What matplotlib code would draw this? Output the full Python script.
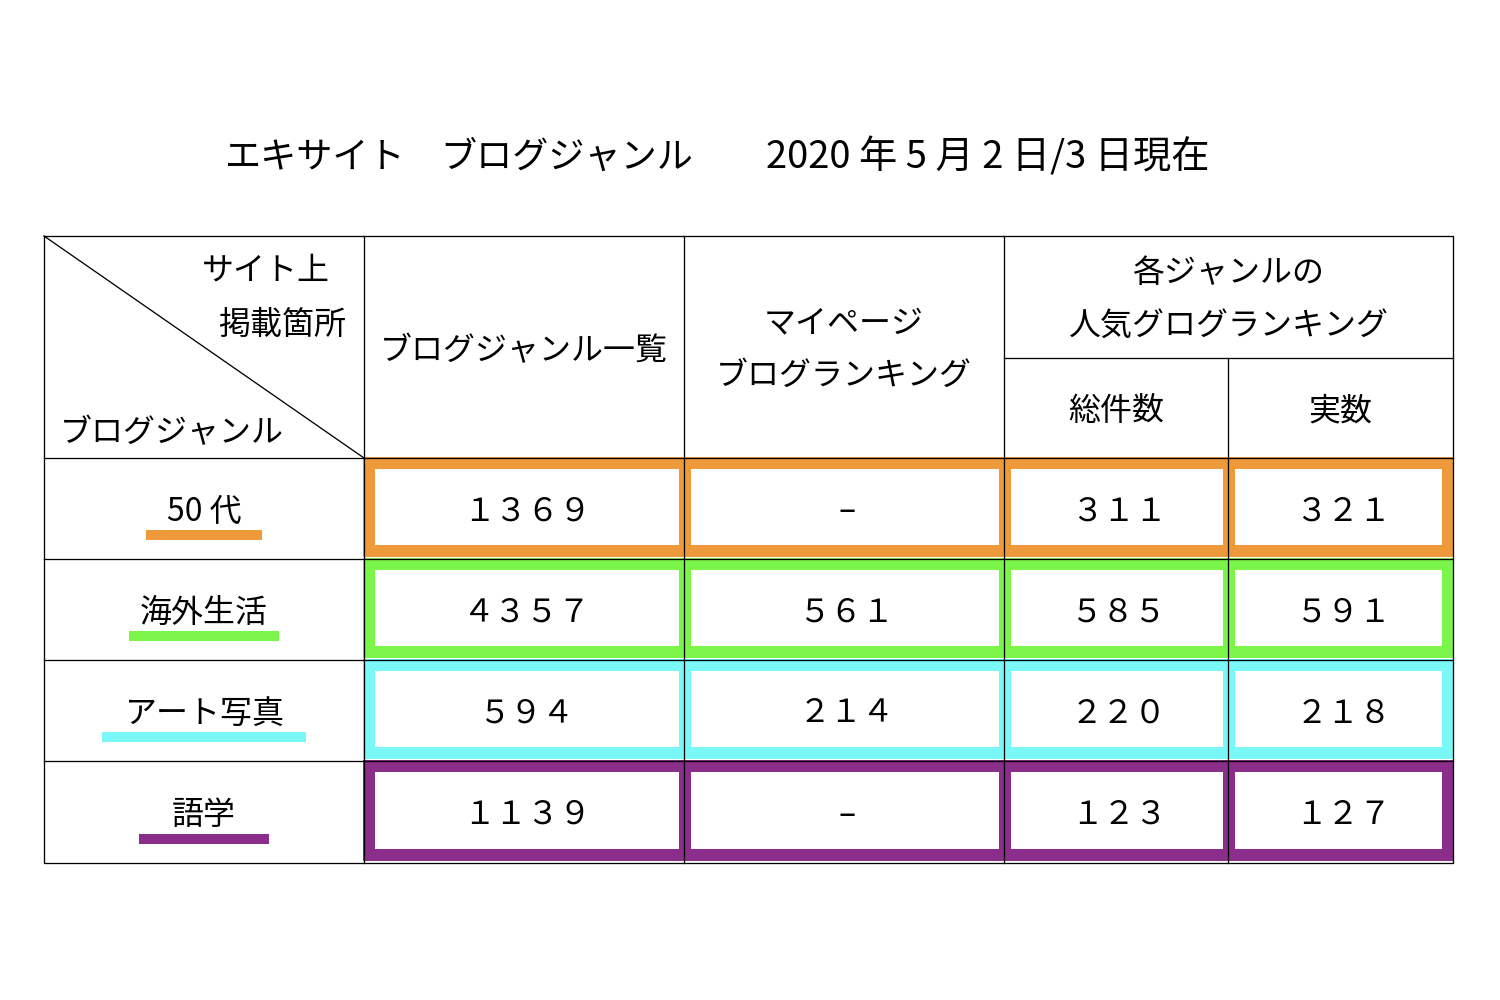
import matplotlib
matplotlib.use("Agg")
import matplotlib.pyplot as plt
from matplotlib.patches import Rectangle

plt.rcParams['font.family'] = ['Noto Sans CJK JP', 'DejaVu Sans']

# ---- data ----
title_parts = ["エキサイト", "ブログジャンル", "2020 年 5 月 2 日/3 日現在"]
genres = ["50 代", "海外生活", "アート写真", "語学"]
blog_genre_list = [1369, 4357, 594, 1139]
mypage_ranking = [None, 561, 214, None]
popular_total = [311, 585, 220, 123]
popular_actual = [321, 591, 218, 127]
header_col1 = "ブログジャンル一覧"
header_col2 = ["マイページ", "ブログランキング"]
header_col3 = ["各ジャンルの", "人気グログランキング"]
sub_headers = ["総件数", "実数"]
corner_top = ["サイト上", "掲載箇所"]
corner_bottom = "ブログジャンル"

# ---- style / layout (pixel space) ----
row_colors = ["#EE9A3A", "#7BF54A", "#7AF8F8", "#8B2D8B"]
underline_half = [58, 75, 102, 65]
col_x = [44, 364, 684, 1004, 1228, 1453]
row_y = [236, 458, 559, 660, 761, 863]
sub_y = 358
title_x = [225, 440, 766]
title_fs = [26, 26, 27.5]
dy = 3

FULLW = str.maketrans("0123456789", "０１２３４５６７８９")

def fmt(v):
    return "–" if v is None else str(v).translate(FULLW)

fig = plt.figure(figsize=(15, 10), dpi=100)
ax = fig.add_axes([0, 0, 1, 1])
ax.set_xlim(0, 1500)
ax.set_ylim(1000, 0)
ax.axis('off')

px = 72 / 100.0
thin = 1.3 * px
fs = 23

# title
for t, x, f in zip(title_parts, title_x, title_fs):
    ax.text(x, 155 + dy, t, fontsize=f, ha='left', va='center')

# grid lines
L, R, T, B = col_x[0], col_x[-1], row_y[0], row_y[-1]
ax.plot([L, R, R, L, L], [T, T, B, B, T], color='black', lw=thin)
for x in col_x[1:4]:
    ax.plot([x, x], [T, B], color='black', lw=thin)
ax.plot([col_x[4], col_x[4]], [sub_y, B], color='black', lw=thin)
ax.plot([col_x[3], R], [sub_y, sub_y], color='black', lw=thin)
for y in row_y[1:-1]:
    ax.plot([L, R], [y, y], color='black', lw=thin)
ax.plot([L, col_x[1]], [T, row_y[1]], color='black', lw=thin)

# header texts
ax.text(330, 268 + dy, corner_top[0], fontsize=fs, ha='right', va='center')
ax.text(346, 322 + dy, corner_top[1], fontsize=fs, ha='right', va='center')
ax.text(60, 430 + dy, corner_bottom, fontsize=fs, ha='left', va='center')
ax.text((col_x[1] + col_x[2]) / 2, 348 + dy, header_col1, fontsize=fs, ha='center', va='center')
ax.text((col_x[2] + col_x[3]) / 2, 320 + dy, header_col2[0], fontsize=fs, ha='center', va='center')
ax.text((col_x[2] + col_x[3]) / 2, 373 + dy, header_col2[1], fontsize=fs, ha='center', va='center')
ax.text((col_x[3] + col_x[5]) / 2, 270 + dy, header_col3[0], fontsize=fs, ha='center', va='center')
ax.text((col_x[3] + col_x[5]) / 2, 323 + dy, header_col3[1], fontsize=fs, ha='center', va='center')
ax.text((col_x[3] + col_x[4]) / 2, 408 + dy, sub_headers[0], fontsize=fs, ha='center', va='center')
ax.text((col_x[4] + col_x[5]) / 2, 408 + dy, sub_headers[1], fontsize=fs, ha='center', va='center')

# body
value_cols = [blog_genre_list, mypage_ranking, popular_total, popular_actual]
lw_box = 12 * px
for i, g in enumerate(genres):
    y0, y1 = row_y[i + 1], row_y[i + 2]
    yc = (y0 + y1) / 2 + dy
    c = row_colors[i]
    ax.text(204, yc, g, fontsize=fs, ha='center', va='center')
    uy = y1 - 24
    ax.plot([204 - underline_half[i], 204 + underline_half[i]], [uy, uy],
            color=c, lw=10 * px, solid_capstyle='butt')
    bt, bb = y0 + 5, y1 - 8
    for j, vals in enumerate(value_cols):
        xa = col_x[j + 1] + (5 if j == 0 else 1)
        xb = col_x[j + 2] + (-5 if j == 3 else 1)
        ax.add_patch(Rectangle((xa, bt), xb - xa, bb - bt, fill=False,
                               edgecolor=c, lw=lw_box, joinstyle='miter'))
        xc = (col_x[j + 1] + col_x[j + 2]) / 2 + 3
        ax.text(xc, yc, fmt(vals[i]), fontsize=fs, ha='center', va='center')

fig.savefig("out.png", dpi=100)
